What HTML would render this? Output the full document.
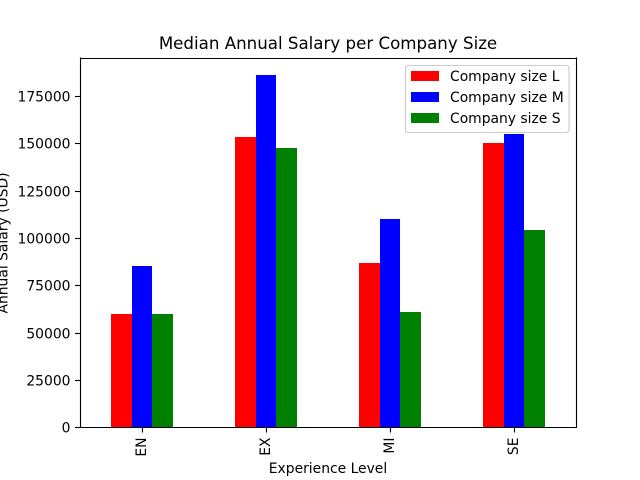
<!DOCTYPE html>
<html>
<head>
<meta charset="utf-8">
<title>Median Annual Salary per Company Size</title>
<style>
html,body{margin:0;padding:0;background:#fff;width:640px;height:480px;overflow:hidden}
svg{display:block}
text{font-family:"DejaVu Sans","Liberation Sans",sans-serif;fill:#000}
</style>
</head>
<body>
<svg id="chart" xmlns="http://www.w3.org/2000/svg" width="640" height="480" viewBox="0 0 640 480">
  <rect x="0" y="0" width="640" height="480" fill="#fff"/>
  <g id="bars"></g>
  <g id="y-axis"></g>
  <g id="x-axis"></g>
  <g stroke="#000" stroke-width="1.1" fill="none">
    <line x1="80.5" y1="57.5" x2="80.5" y2="428"/>
    <line x1="576.5" y1="57.5" x2="576.5" y2="428"/>
    <line x1="80" y1="58.5" x2="577" y2="58.5"/>
    <line x1="80" y1="427.5" x2="577" y2="427.5"/>
  </g>
  <text x="328" y="49" font-size="16.67" text-anchor="middle">Median Annual Salary per Company Size</text>
  <text x="328" y="473" font-size="13.89" text-anchor="middle">Experience Level</text>
  <text transform="translate(7.5,243) rotate(-90)" x="0" y="0" font-size="13.89" text-anchor="middle">Annual Salary (USD)</text>
  <g>
    <rect x="405.5" y="65.5" width="163.5" height="67" rx="2.8" ry="2.8" fill="#fff" fill-opacity="0.8" stroke="#ccc" stroke-width="1.1"/>
    <rect x="411" y="71" width="28" height="10" fill="#f00"/>
    <text x="450" y="81" font-size="13.89">Company size L</text>
    <rect x="411" y="92" width="28" height="10" fill="#00f"/>
    <text x="450" y="102" font-size="13.89">Company size M</text>
    <rect x="411" y="113" width="28" height="10" fill="#008000"/>
    <text x="450" y="123" font-size="13.89">Company size S</text>
  </g>
</svg>
<script>
const categories = ["EN", "EX", "MI", "SE"];
const sizeL = [60000, 153400, 86800, 150300];
const sizeM = [85000, 186200, 110000, 155000];
const sizeS = [60000, 147700, 60900, 104300];
const yTicks = [0, 25000, 50000, 75000, 100000, 125000, 150000, 175000];

const NS = "http://www.w3.org/2000/svg";
const plotLeft = 80, plotWidth = 496, plotBottom = 427.2, pxPerUnit = 0.001893;
const series = [
  { key: "l", values: sizeL, color: "#f00" },
  { key: "m", values: sizeM, color: "#00f" },
  { key: "s", values: sizeS, color: "#008000" }
];

function xScale(pos) {
  return plotLeft + (pos + 0.5) * plotWidth / categories.length;
}
function yScale(v) {
  return plotBottom - v * pxPerUnit;
}
function make(tag, parent, attrs) {
  const el = document.createElementNS(NS, tag);
  for (const k in attrs) el.setAttribute(k, attrs[k]);
  parent.appendChild(el);
  return el;
}

const barsGroup = document.getElementById("bars");
const xGroup = document.getElementById("x-axis");
const yGroup = document.getElementById("y-axis");
const barWidth = 0.5 / series.length;

series.forEach(function (s, si) {
  s.values.forEach(function (v, ci) {
    const x0 = Math.round(xScale(ci - 0.25 + si * barWidth));
    const x1 = Math.round(xScale(ci - 0.25 + (si + 1) * barWidth));
    const top = Math.round(yScale(v));
    const bar = make("rect", barsGroup, { x: x0, y: top, width: x1 - x0, height: 427 - top, fill: s.color });
    
    
  });
});

categories.forEach(function (c, i) {
  const x = Math.floor(xScale(i)) + 0.5;
  const tick = make("line", xGroup, { x1: x, y1: 428, x2: x, y2: 432.5, stroke: "#000", "stroke-width": 1.1 });
  
  
  const label = make("text", xGroup, { transform: "translate(" + (xScale(i) + 4) + ",437.5) rotate(-90)", "font-size": 13.89, "text-anchor": "end" });
  label.textContent = c;
  
  
});

yTicks.forEach(function (t) {
  const row = Math.round(yScale(t));
  const y = row + 0.5;
  const tick = make("line", yGroup, { x1: 75, y1: y, x2: 80, y2: y, stroke: "#000", "stroke-width": 1.1 });
  
  
  const label = make("text", yGroup, { x: 70.5, y: row + 5.5, "font-size": 13.89, "text-anchor": "end" });
  label.textContent = String(t);
  
  
});
</script>
</body>
</html>
